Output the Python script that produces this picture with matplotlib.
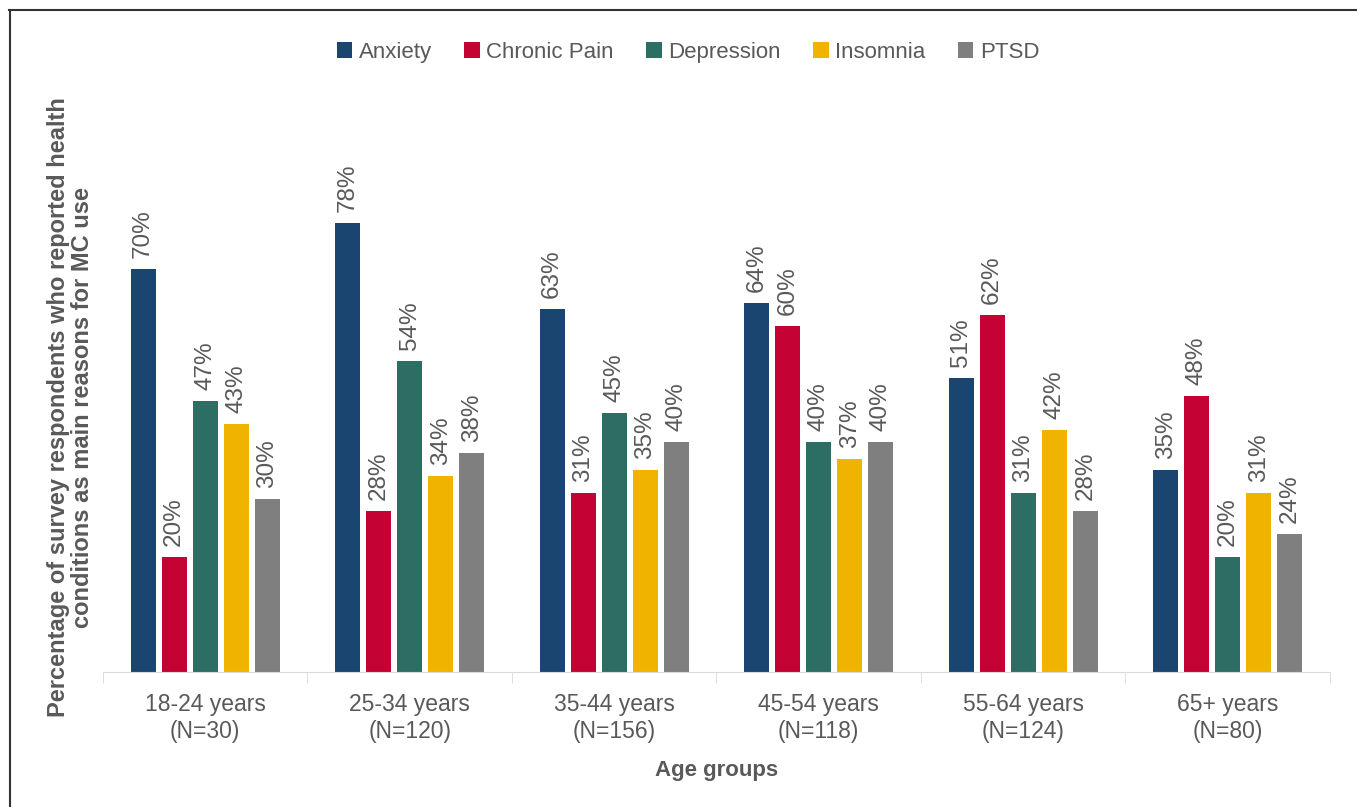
import numpy as np
import matplotlib.pyplot as plt
from matplotlib.lines import Line2D

# age groups and the share (%) reporting each condition
groups = ["18-24 years\n(N=30)", "25-34 years\n(N=120)", "35-44 years\n(N=156)",
          "45-54 years\n(N=118)", "55-64 years\n(N=124)", "65+ years\n(N=80)"]
anxiety = [70, 78, 63, 64, 51, 35]
chronic_pain = [20, 28, 31, 60, 62, 48]
depression = [47, 54, 45, 40, 31, 20]
insomnia = [43, 34, 35, 37, 42, 31]
ptsd = [30, 38, 40, 40, 28, 24]

series = [("Anxiety", anxiety, "#1b4571"),
          ("Chronic Pain", chronic_pain, "#c40233"),
          ("Depression", depression, "#2c6e63"),
          ("Insomnia", insomnia, "#f0b400"),
          ("PTSD", ptsd, "#7f7f7f")]

plt.rcParams['font.family'] = ['Liberation Sans', 'DejaVu Sans']
txt = "#595959"

fig = plt.figure(figsize=(13.57, 8.07), dpi=100)
ax = fig.add_axes([0.0759, 0.1673, 0.9042, 0.7137])

x = np.arange(len(groups))
step = 0.152
width = 0.122
for i, (name, vals, col) in enumerate(series):
    pos = x + (i - 2) * step
    ax.bar(pos, vals, width, color=col, label=name)
    for p, v in zip(pos, vals):
        ax.text(p, v + 1.9, f"{v}%", rotation=90, ha="center", va="bottom",
                fontsize=17.5, color=txt)

ax.set_xlim(-0.5, len(groups) - 0.5)
ax.set_ylim(0, 100)
ax.set_yticks([])
ax.set_xticks(x)
ax.set_xticklabels(groups, fontsize=16.5, color=txt, linespacing=1.25)
ax.tick_params(axis="x", which="major", length=0, pad=15)
ax.set_xticks(np.arange(-0.5, len(groups)), minor=True)
ax.tick_params(axis="x", which="minor", length=8, color="#d9d9d9")
for s in ["top", "right", "left"]:
    ax.spines[s].set_visible(False)
ax.spines["bottom"].set_color("#d9d9d9")

fig.text(0.052, 0.495, "Percentage of survey respondents who reported health\nconditions as main reasons for MC use",
         rotation=90, ha="center", va="center", fontsize=17, fontweight="bold",
         color=txt, linespacing=1.05)
fig.text(0.528, 0.045, "Age groups", ha="center", va="center", fontsize=16,
         fontweight="bold", color=txt)

fig.legend(loc="center", bbox_to_anchor=(0.507, 0.935), ncol=5, frameon=False,
           fontsize=16, handlelength=0.7, handleheight=0.7, handletextpad=0.3,
           columnspacing=1.45, labelcolor=txt)

# frame lines (top and left)
fig.add_artist(Line2D([0.0066, 1.0], [0.9875, 0.9875], color="#333333", lw=1.5,
                      transform=fig.transFigure))
fig.add_artist(Line2D([0.0073, 0.0073], [0.0, 0.9875], color="#333333", lw=1.5,
                      transform=fig.transFigure))

fig.savefig("out.png", dpi=100)
